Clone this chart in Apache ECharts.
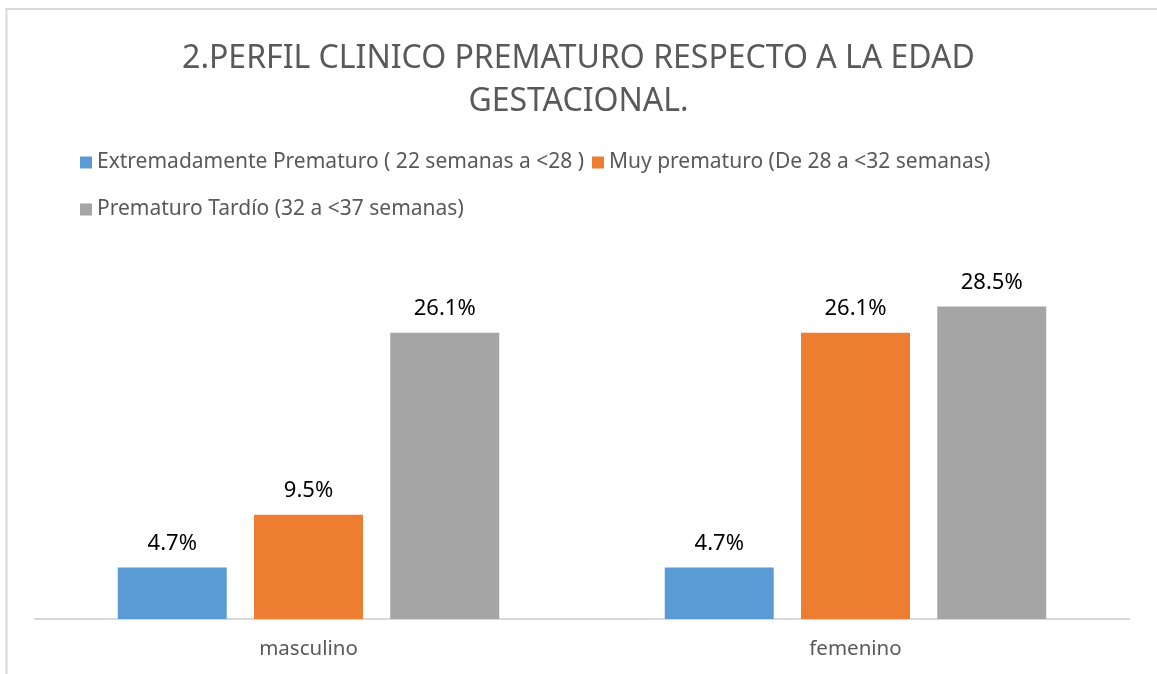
<!DOCTYPE html>
<html>
<head>
<meta charset="utf-8">
<script src="https://cdn.jsdelivr.net/npm/echarts@6/dist/echarts.min.js"></script>
<style>
  html, body { margin: 0; padding: 0; background: #fff; }
  #chart { width: 1157px; height: 674px; }
</style>
</head>
<body>
<div id="chart"></div>
<script>
// datos
var categorias = ["masculino", "femenino"];
var extremadamente = [4.7, 4.7];
var muyPrematuro = [9.5, 26.1];
var tardio = [26.1, 28.5];
var nombres = [
  "Extremadamente Prematuro ( 22 semanas a <28 )",
  "Muy prematuro (De 28 a <32 semanas)",
  "Prematuro Tardío (32 a <37 semanas)"
];
var colores = ["#5b9bd5", "#ed7d31", "#a5a5a5"];

var fuente = "Noto Sans";
var chart = echarts.init(document.getElementById("chart"));

function serie(nombre, datos, color) {
  return {
    name: nombre,
    type: "bar",
    data: datos,
    barWidth: 109,
    barGap: "25%",
    itemStyle: { color: color },
    label: {
      show: true,
      position: "top",
      distance: 13,
      formatter: "{c}%",
      color: "#000",
      fontFamily: fuente,
      fontSize: 22,
    },
  };
}

var legendaTexto = { color: "#595959", fontFamily: fuente, fontSize: 21 };

chart.setOption({
  backgroundColor: "#fff",
  animation: false,
  color: colores,
  title: {
    text: "2.PERFIL CLINICO PREMATURO RESPECTO A LA EDAD\nGESTACIONAL.",
    left: "center",
    top: 37,
    padding: 0,
    textStyle: {
      color: "#595959",
      fontFamily: fuente,
      fontWeight: "normal",
      fontSize: 32,
      lineHeight: 43,
      align: "center",
    },
  },
  legend: [
    {
      data: [nombres[0], nombres[1]],
      left: 80,
      top: 152,
      padding: 0,
      itemWidth: 12,
      itemHeight: 12,
      itemGap: 8,
      icon: "rect",
      textStyle: legendaTexto,
    },
    {
      data: [nombres[2]],
      left: 80,
      top: 199,
      padding: 0,
      itemWidth: 12,
      itemHeight: 12,
      icon: "rect",
      textStyle: legendaTexto,
    },
  ],
  grid: { left: 35, right: 28, top: 290, bottom: 55 },
  xAxis: {
    type: "category",
    data: categorias,
    axisLine: { lineStyle: { color: "#d9d9d9", width: 2 } },
    axisTick: { show: false },
    axisLabel: {
      color: "#595959",
      fontFamily: fuente,
      fontSize: 20.5,
      margin: 20,
    },
  },
  yAxis: {
    type: "value",
    min: 0,
    max: 30,
    show: false,
    splitLine: { show: false },
  },
  series: [
    serie(nombres[0], extremadamente, colores[0]),
    serie(nombres[1], muyPrematuro, colores[1]),
    serie(nombres[2], tardio, colores[2]),
  ],
  graphic: [
    {
      type: "rect",
      shape: { x: 6.5, y: 9, width: 1200, height: 700 },
      style: { fill: null, stroke: "#d9d9d9", lineWidth: 2 },
      silent: true,
    },
  ],
});
</script>
</body>
</html>
